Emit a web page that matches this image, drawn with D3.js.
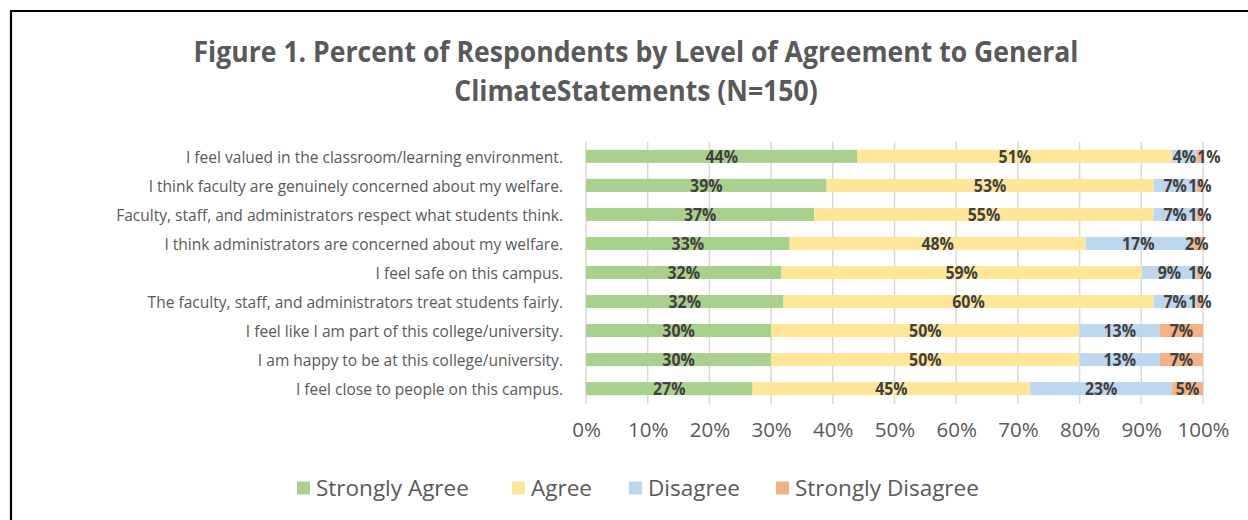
<!DOCTYPE html>
<meta charset="utf-8">
<head>
  <title>Figure 1</title>
</head>
<style>
  body { margin: 0; background: #fff; }
  .title { font-family: "Open Sans", sans-serif; font-weight: bold; fill: #595959; font-size: 28px; }
  .cat { font-family: "Open Sans", sans-serif; fill: #595959; font-size: 17px; }
  .val { font-family: "Open Sans", sans-serif; font-weight: bold; fill: #404040; font-size: 18.5px; }
  .tick text { font-family: "Open Sans", sans-serif; fill: #595959; font-size: 20.5px; }
  .leg { font-family: "Open Sans", sans-serif; fill: #595959; font-size: 22.5px; }
</style>
<body>
<svg id="chart" width="1248" height="520"></svg>
<script src="https://cdnjs.cloudflare.com/ajax/libs/d3/7.8.5/d3.min.js"></script>
<script>
var statements = [
  "I feel valued in the classroom/learning environment.",
  "I think faculty are genuinely concerned about my welfare.",
  "Faculty, staff, and administrators respect what students think.",
  "I think administrators are concerned about my welfare.",
  "I feel safe on this campus.",
  "The faculty, staff, and administrators treat students fairly.",
  "I feel like I am part of this college/university.",
  "I am happy to be at this college/university.",
  "I feel close to people on this campus."
];
var levels = ["Strongly Agree", "Agree", "Disagree", "Strongly Disagree"];
var stronglyAgree    = [44, 39, 37, 33, 32, 32, 30, 30, 27];
var agree            = [51, 53, 55, 48, 59, 60, 50, 50, 45];
var disagree         = [4, 7, 7, 17, 9, 7, 13, 13, 23];
var stronglyDisagree = [1, 1, 1, 2, 1, 1, 7, 7, 5];
var xTicks = [0, 0.1, 0.2, 0.3, 0.4, 0.5, 0.6, 0.7, 0.8, 0.9, 1];
var titleLines = ["Figure 1. Percent of Respondents by Level of Agreement to General",
                  "ClimateStatements (N=150)"];

var colors = d3.scaleOrdinal()
  .domain(levels)
  .range(["#a9d18e", "#ffe699", "#bdd7ee", "#f4b183"]);

var rows = statements.map(function(s, i) {
  return {
    name: s,
    "Strongly Agree": stronglyAgree[i],
    "Agree": agree[i],
    "Disagree": disagree[i],
    "Strongly Disagree": stronglyDisagree[i]
  };
});

var svg = d3.select("#chart");

// frame
svg.append("path")
  .attr("d", "M11,520V11H1248")
  .attr("fill", "none")
  .attr("stroke", "#000")
  .attr("stroke-width", 2.2);

// title (narrowed a bit, the original font is condensed)
svg.selectAll(".titleline")
  .data(titleLines)
  .enter()
  .append("g")
  .attr("transform", function(d, i) { return "translate(636," + (62 + i * 39) + ") scale(0.95,1)"; })
  .append("text")
  .attr("class", "title")
  .attr("text-anchor", "middle")
  .text(function(d) { return d; });

var x = d3.scaleLinear().domain([0, 1]).range([586, 1203]);
var y = d3.scaleBand().domain(statements).range([142, 403]).paddingInner(0.55).paddingOuter(0.27);

// gridlines
svg.selectAll(".grid")
  .data(xTicks)
  .enter()
  .append("line")
  .attr("class", "grid")
  .attr("x1", function(d) { return x(d); })
  .attr("x2", function(d) { return x(d); })
  .attr("y1", 142)
  .attr("y2", 404)
  .attr("stroke", "#d9d9d9")
  .attr("stroke-width", 1.5);

var stack = d3.stack().keys(levels).offset(d3.stackOffsetExpand);
var series = stack(rows);

var groups = svg.selectAll(".series")
  .data(series)
  .enter()
  .append("g")
  .attr("fill", function(d) { return colors(d.key); });

groups.selectAll("rect")
  .data(function(d) { return d; })
  .enter()
  .append("rect")
  .attr("x", function(d) { return x(d[0]); })
  .attr("width", function(d) { return x(d[1]) - x(d[0]); })
  .attr("y", function(d) { return y(d.data.name); })
  .attr("height", y.bandwidth());

// value labels, one row at a time so tiny neighbours can be nudged apart
var sx = 0.86;
statements.forEach(function(name, i) {
  var prevRight = -Infinity;
  series.forEach(function(s) {
    var d = s[i];
    var cx = x((d[0] + d[1]) / 2);
    var g = svg.append("g");
    var t = g.append("text")
      .attr("class", "val")
      .attr("text-anchor", "middle")
      .attr("dy", "0.36em")
      .text(d.data[s.key] + "%");
    var w = t.node().getComputedTextLength() * sx;
    if (cx - w / 2 < prevRight + 1) cx = prevRight + 1 + w / 2;
    prevRight = cx + w / 2;
    g.attr("transform", "translate(" + cx + "," + (y(name) + y.bandwidth() / 2) + ") scale(" + sx + ",1)");
  });
});

// category labels
svg.selectAll(".catg")
  .data(statements)
  .enter()
  .append("g")
  .attr("transform", function(d) { return "translate(563," + (y(d) + y.bandwidth() / 2) + ") scale(0.915,1)"; })
  .append("text")
  .attr("class", "cat")
  .attr("dy", "0.36em")
  .attr("text-anchor", "end")
  .text(function(d) { return d; });

// x axis
var axis = svg.append("g")
  .attr("transform", "translate(0,418)")
  .call(d3.axisBottom(x).tickValues(xTicks).tickFormat(d3.format(".0%")).tickSize(0).tickPadding(4));
axis.select(".domain").remove();

// legend
var legX = [297, 512, 629, 776];
var leg = svg.selectAll(".legitem")
  .data(levels)
  .enter()
  .append("g")
  .attr("transform", function(d, i) { return "translate(" + legX[i] + ",488)"; });
leg.append("rect")
  .attr("x", 0)
  .attr("y", -6.5)
  .attr("width", 13)
  .attr("height", 13)
  .attr("fill", function(d) { return colors(d); });
leg.append("text")
  .attr("class", "leg")
  .attr("x", 19)
  .attr("dy", "0.36em")
  .text(function(d) { return d; });
</script>
</body>
